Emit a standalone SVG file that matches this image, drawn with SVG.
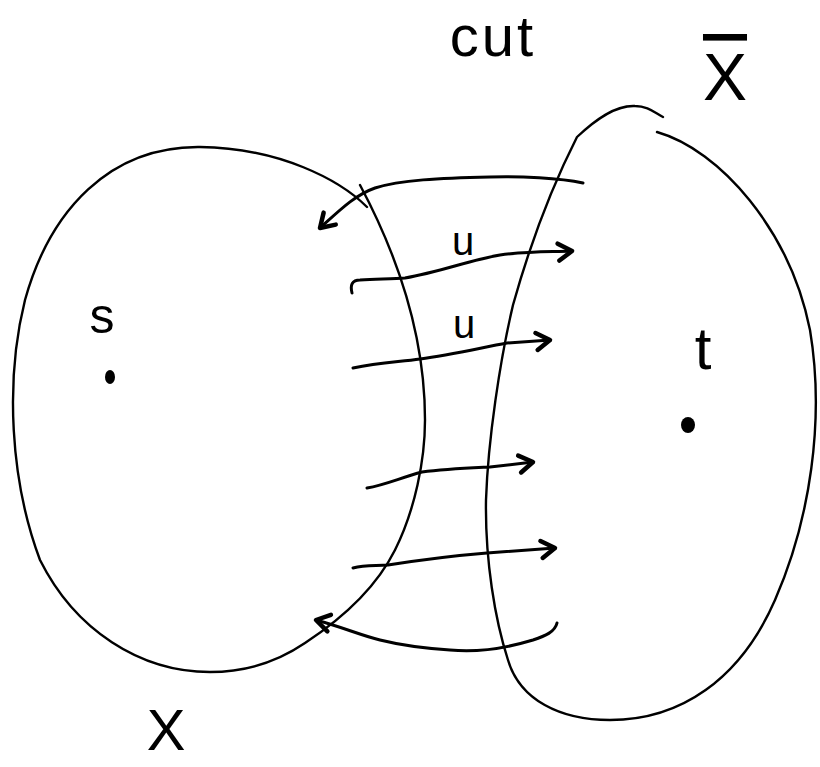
<svg xmlns="http://www.w3.org/2000/svg" width="820" height="767" viewBox="0 0 820 767">
  <style>
    .line { fill: none; stroke: #000; stroke-width: 2.4; stroke-linecap: round; stroke-linejoin: round; }
    .edge { fill: none; stroke: #000; stroke-width: 3; stroke-linecap: round; stroke-linejoin: round; marker-end: url(#head); }
    .lbl { font-family: "Liberation Sans", Arial, sans-serif; fill: #000; text-anchor: middle; }
    .dot { fill: #000; }
  </style>
  <defs>
    <marker id="head" markerUnits="userSpaceOnUse" markerWidth="30" markerHeight="30" refX="0" refY="0" viewBox="-20 -15 30 30" orient="auto" overflow="visible">
      <path d="M -14,-8 L 0,0 L -13,9" fill="none" stroke="#000" stroke-width="4.5" stroke-linecap="round" stroke-linejoin="round"/>
    </marker>
  </defs>
  <rect width="820" height="767" fill="#fff"/>

  <g id="set-X">
    <path class="line" d="M 367,207 C 340,180 280,148 200,147 C 110,146 50,210 25,300 C 5,380 10,480 40,560 C 75,630 140,672 210,672 C 250,672 280,660 305,643 C 340,620 375,590 395,550 C 415,510 425,460 425,420 C 425,340 400,260 360,185"/>
    <text class="lbl" x="166" y="750" font-size="58">X</text>
  </g>

  <g id="set-Xbar">
    <path class="line" d="M 657,132 C 720,150 790,230 810,330 C 825,420 810,520 775,600 C 740,680 680,720 610,720 C 560,720 520,700 508,660 C 495,620 485,560 486,500 C 488,440 500,360 513,305 C 527,255 545,200 577,137 C 595,120 615,105 635,106 C 648,106 655,113 663,117"/>
    <text class="lbl" x="725" y="100" font-size="66" style="text-decoration: overline;">X</text>
  </g>

  <g id="vertex-s">
    <ellipse class="dot" cx="110" cy="377" rx="5" ry="7"/>
    <text class="lbl" x="102" y="333" font-size="50">s</text>
  </g>

  <g id="vertex-t">
    <ellipse class="dot" cx="688" cy="425" rx="7" ry="8"/>
    <text class="lbl" x="703" y="369" font-size="60">t</text>
  </g>

  <g id="title">
    <text class="lbl" x="493" y="56" font-size="58" letter-spacing="3">cut</text>
  </g>

  <g id="connectors">
    <path class="edge" d="M 583,183 C 560,178 520,176 490,177 C 440,178 400,180 375,188 C 355,195 340,210 320,228"/>
    <path class="edge" d="M 352,293 C 350,285 352,280 360,280 C 380,279 395,279 405,278 C 440,272 470,260 500,255 C 530,251 550,252 572,251"/>
    <path class="edge" d="M 353,368 C 380,362 400,362 420,359 C 450,355 480,348 507,343 L 550,340"/>
    <path class="edge" d="M 367,488 C 385,485 400,478 422,472 C 445,469 470,468 490,467 L 533,462"/>
    <path class="edge" d="M 353,568 C 365,565 375,566 388,565 C 420,560 450,556 487,553 L 555,548"/>
    <path class="edge" d="M 557,623 C 555,632 545,636 533,640 C 500,650 470,652 450,650 C 420,648 400,645 380,640 C 360,635 345,628 316,620"/>
    <text class="lbl" x="463" y="255" font-size="40">u</text>
    <text class="lbl" x="464" y="338" font-size="40">u</text>
  </g>
</svg>
